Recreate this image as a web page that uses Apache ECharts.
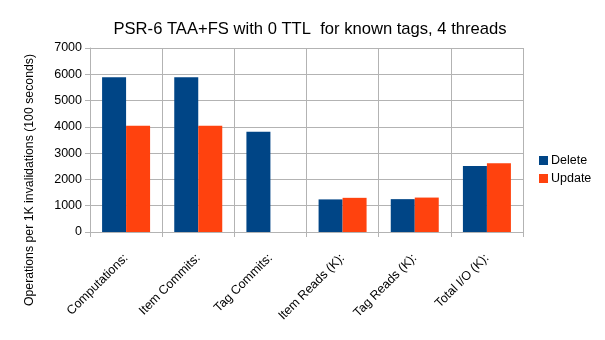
<!DOCTYPE html>
<html>
<head>
<meta charset="utf-8">
<script src="https://cdn.jsdelivr.net/npm/echarts@6/dist/echarts.min.js"></script>
<style>
  html, body { margin: 0; padding: 0; background: #fff; }
  #chart { width: 605px; height: 340px; }
</style>
</head>
<body>
<div id="chart"></div>
<script>
// Operation counts per 1K invalidations, grouped by metric
const categories = ['Computations:', 'Item Commits:', 'Tag Commits:', 'Item Reads (K):', 'Tag Reads (K):', 'Total I/O (K):'];
const deleteValues = [5890, 5890, 3810, 1240, 1250, 2510];
const updateValues = [4040, 4040, null, 1300, 1310, 2620];
const yTicks = { min: 0, max: 7000, interval: 1000 };

const FONT = '"Liberation Sans", Arial, sans-serif';
const GRID = '#b3b3b3';

const chart = echarts.init(document.getElementById('chart'), null, { renderer: 'canvas' });
chart.setOption({
  animation: false,
  backgroundColor: '#ffffff',
  textStyle: { fontFamily: FONT },
  title: {
    text: 'PSR-6 TAA+FS with 0 TTL  for known tags, 4 threads',
    left: 305, top: 16, textAlign: 'center',
    textStyle: { fontFamily: FONT, fontSize: 16.6, fontWeight: 'normal', color: '#000' }
  },
  grid: { left: 90, right: 82, top: 48, bottom: 108, containLabel: false },
  legend: {
    orient: 'vertical', left: 539, top: 154, padding: 0, itemWidth: 9, itemHeight: 9, itemGap: 5,
    icon: 'rect',
    textStyle: { fontFamily: FONT, fontSize: 12.5, color: '#000', padding: [0, 0, 0, -2] },
    data: ['Delete', 'Update']
  },
  graphic: [{
    type: 'text', x: 30, y: 180, rotation: Math.PI / 2,
    style: {
      text: 'Operations per 1K invalidations (100 seconds)',
      font: '12.3px ' + FONT, fill: '#000', align: 'center', verticalAlign: 'middle'
    }
  }],
  xAxis: {
    type: 'category', data: categories,
    axisLine: { lineStyle: { color: GRID } },
    axisTick: { show: true, alignWithLabel: false, length: 5, lineStyle: { color: GRID } },
    splitLine: { show: true, lineStyle: { color: GRID } },
    axisLabel: { rotate: 45, interval: 0, margin: 24, fontFamily: FONT, fontSize: 12.5, color: '#000' }
  },
  yAxis: {
    type: 'value', min: yTicks.min, max: yTicks.max, interval: yTicks.interval,
    axisLine: { show: true, lineStyle: { color: GRID } },
    axisTick: { show: true, length: 5, lineStyle: { color: GRID } },
    splitLine: { lineStyle: { color: GRID } },
    axisLabel: { margin: 8, fontFamily: FONT, fontSize: 12.5, color: '#000', formatter: v => String(v) }
  },
  series: [
    { name: 'Delete', type: 'bar', data: deleteValues, barWidth: 24, barGap: '0%',
      itemStyle: { color: '#004586' } },
    { name: 'Update', type: 'bar', data: updateValues, barWidth: 24, barGap: '0%',
      itemStyle: { color: '#ff420e' } }
  ]
});
</script>
</body>
</html>
